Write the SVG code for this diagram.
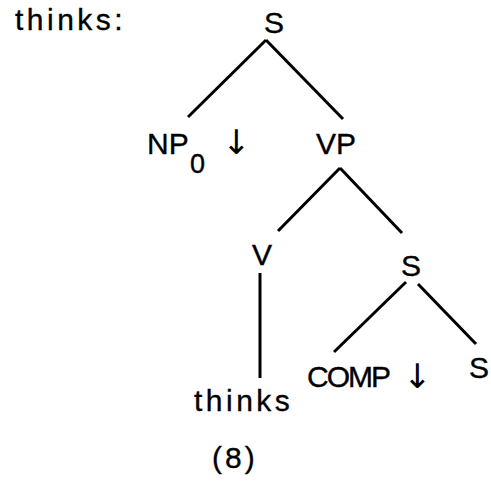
<svg xmlns="http://www.w3.org/2000/svg" width="491" height="484" viewBox="0 0 491 484">
<style>
text{font-family:"Liberation Sans","DejaVu Sans",Arial,sans-serif;font-size:30px;fill:#000;stroke:#000;stroke-width:0.35}
.sp{letter-spacing:3.5px}
.sub{font-size:27px}
.arr{font-family:"DejaVu Sans",sans-serif;font-size:34px;stroke-width:0}
line{stroke:#000;stroke-width:3;stroke-linecap:butt}
</style>
<rect width="491" height="484" fill="#fff"/>
<text class="sp" x="15" y="30">thinks:</text>
<g id="edges">
<line x1="266" y1="40" x2="188" y2="117"/>
<line x1="266" y1="40" x2="343" y2="119"/>
<line x1="340" y1="168" x2="278" y2="231"/>
<line x1="340" y1="168" x2="402" y2="233"/>
<line x1="260" y1="273" x2="260" y2="378"/>
<line x1="406" y1="282" x2="334" y2="352"/>
<line x1="418" y1="284" x2="476" y2="344"/>
</g>
<g id="n-S"><text x="274" y="33" text-anchor="middle">S</text></g>
<g id="n-NP0"><text x="147" y="154">NP</text><text class="sub" x="190" y="173">0</text><text class="arr" x="222" y="154">↓</text></g>
<g id="n-VP"><text x="336" y="154" text-anchor="middle">VP</text></g>
<g id="n-V"><text x="262" y="265" text-anchor="middle">V</text></g>
<g id="n-S2"><text x="411" y="276" text-anchor="middle">S</text></g>
<g id="n-thinks"><text class="sp" x="194" y="411">thinks</text></g>
<g id="n-COMP"><text x="307" y="387" style="letter-spacing:-2px">COMP</text><text class="arr" x="403" y="388">↓</text></g>
<g id="n-S3"><text x="479" y="378" text-anchor="middle">S</text></g>
<text x="212" y="468" style="letter-spacing:3px">(8)</text>
</svg>
